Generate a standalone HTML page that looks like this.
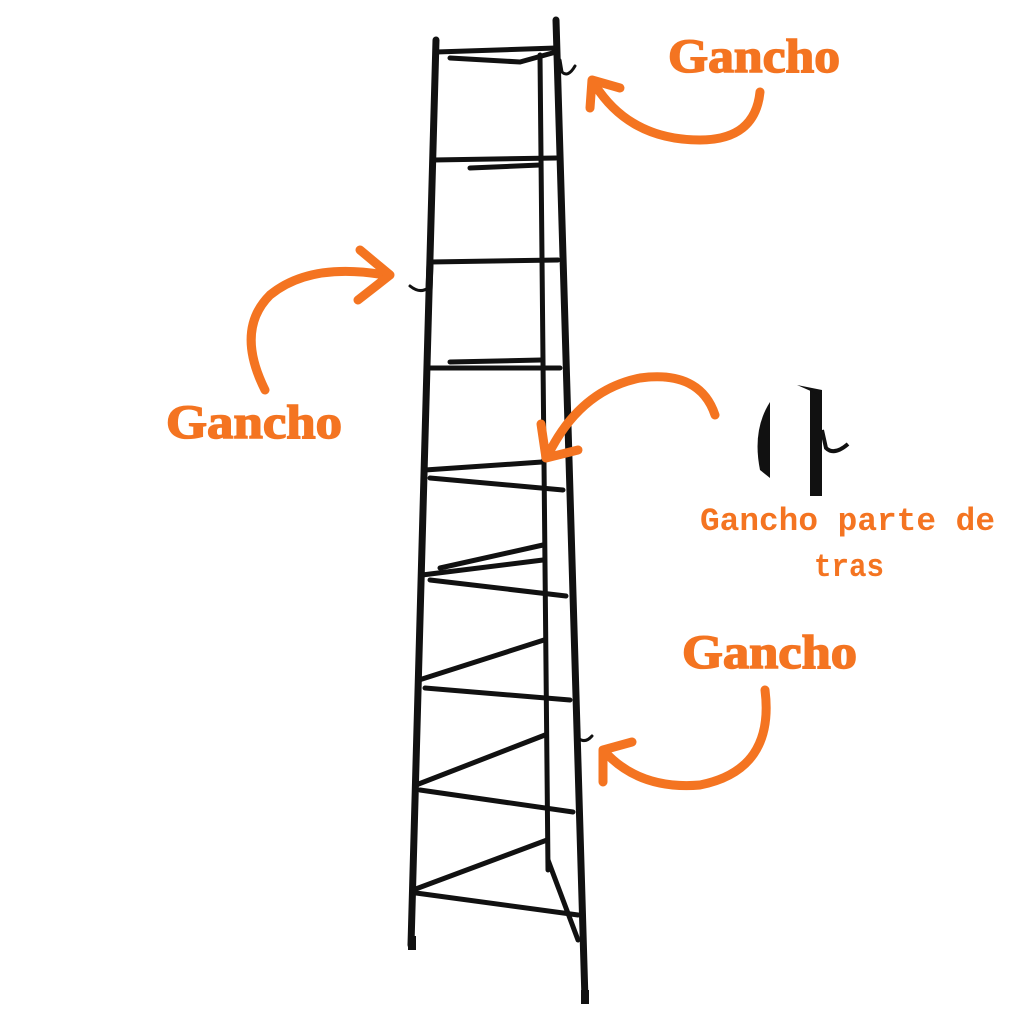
<!DOCTYPE html>
<html><head><meta charset="utf-8"><style>
html,body{margin:0;padding:0;background:#fff;width:1024px;height:1024px;overflow:hidden}
</style></head><body>
<svg width="1024" height="1024" viewBox="0 0 1024 1024" xmlns="http://www.w3.org/2000/svg">
<rect width="1024" height="1024" fill="#fff"/>
<g stroke="#111" stroke-linecap="round" fill="none">
<line x1="436" y1="40" x2="411" y2="945" stroke-width="7"/>
<line x1="556" y1="20" x2="585" y2="1000" stroke-width="7"/>
<line x1="540" y1="55" x2="548" y2="870" stroke-width="5"/>
<line x1="430" y1="265" x2="429" y2="290" stroke-width="7"/>
<g stroke-width="5">
<path d="M436 52 L556 48"/><path d="M450 58 L520 62 L556 52"/>
<path d="M433 160 L556 158"/><path d="M470 168 L540 165"/>
<path d="M430 262 L558 260"/>
<path d="M428 368 L560 368"/><path d="M450 362 L541 360"/>
<path d="M425 470 L542 462"/><path d="M430 478 L563 490"/>
<path d="M422 575 L543 560"/><path d="M440 568 L543 545"/><path d="M430 580 L566 596"/>
<path d="M419 680 L544 640"/><path d="M425 688 L570 700"/>
<path d="M416 785 L545 735"/><path d="M420 790 L573 812"/>
<path d="M413 890 L547 840"/><path d="M416 893 L578 915"/>
<path d="M548 860 L578 940"/>
</g>
<path d="M560 60 L562 72 Q568 78 575 66" stroke-width="3"/>
<path d="M430 275 L428 288 Q420 294 410 286" stroke-width="3"/>
<path d="M576 720 L578 738 Q585 744 592 736" stroke-width="3"/>
<rect x="408" y="936" width="8" height="14" fill="#111" stroke="none"/>
<rect x="581" y="990" width="8" height="14" fill="#111" stroke="none"/>
</g>
<g>
<path d="M770 402 Q752 430 760 470 L770 478 Z" fill="#111"/>
<rect x="810" y="390" width="12" height="106" fill="#111"/>
<path d="M797 385 L822 390 L822 396 Z" fill="#111"/>
<path d="M822 430 L826 448 Q834 456 848 444" stroke="#111" stroke-width="4" fill="none"/>
</g>
<g stroke="#f47421" stroke-width="9" fill="none" stroke-linecap="round" stroke-linejoin="round">
<path d="M760 92 Q755 140 700 140 Q630 140 595 85"/>
<path d="M590 108 L592 80 L620 88"/>
<path d="M265 390 Q235 330 270 295 Q310 262 385 275"/>
<path d="M360 250 L390 275 L358 300"/>
<path d="M715 415 Q700 370 640 378 Q580 390 548 455"/>
<path d="M541 424 L546 458 L578 450"/>
<path d="M765 690 Q775 770 700 785 Q640 790 605 752"/>
<path d="M603 782 L603 750 L632 742"/>
</g>
<g fill="#f47421" stroke="#f47421" stroke-width="1.5" font-family="'Liberation Serif',serif" font-weight="bold" font-size="48">
<text x="668" y="72" textLength="172" lengthAdjust="spacingAndGlyphs">Gancho</text>
<text x="166" y="438" textLength="176" lengthAdjust="spacingAndGlyphs">Gancho</text>
<text x="682" y="668" textLength="175" lengthAdjust="spacingAndGlyphs">Gancho</text>
</g>
<g fill="#f47421" font-family="'Liberation Mono',monospace" font-weight="bold" font-size="32">
<text x="700" y="530" textLength="295" lengthAdjust="spacingAndGlyphs">Gancho parte de</text>
<text x="814" y="576" textLength="70" lengthAdjust="spacingAndGlyphs">tras</text>
</g>
</svg>
</body></html>
